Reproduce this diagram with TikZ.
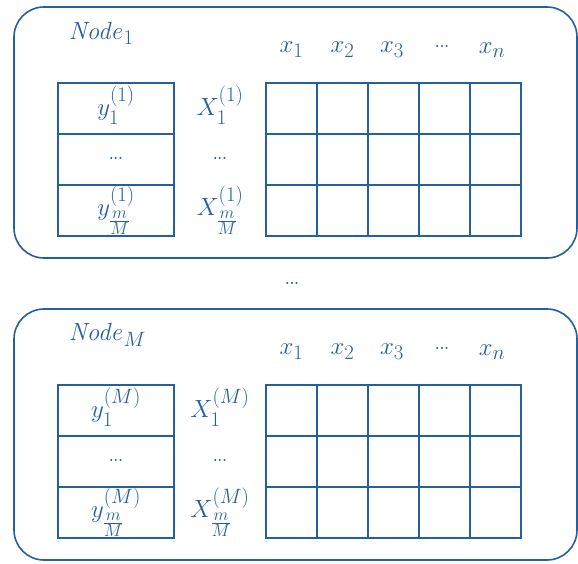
\documentclass[tikz,border=0pt]{standalone}
\usepackage{amsmath}
\definecolor{bl}{RGB}{36,96,160}
\tikzset{
  panel/.style={draw, rounded corners=30pt, minimum width=563pt, minimum height=251pt, inner sep=0pt},
  cell/.style={draw, inner sep=0pt, minimum width=51pt, minimum height=51pt},
  ycell/.style={draw, inner sep=0pt, minimum width=116pt, minimum height=51pt},
  lbl/.style={inner sep=0pt, font=\Huge},
  dots/.style={inner sep=0pt, font=\Large\bfseries}
}
\newcommand\mypanel[4]{%
\begin{scope}[shift={(0,#2)}]
  \node[panel] (#1-box) at (295.5,132.5) {};
  \node[lbl, anchor=west] (#1-name) at (68,33) {$\mathit{Node}_{#4}$};
  \node[ycell] (#1-y1) at (116,108.5) {};
  \node[ycell] (#1-y2) at (116,159.5) {};
  \node[ycell] (#1-y3) at (116,210.5) {};
  \node[lbl] (#1-ty1) at (116,105) {$y_1^{(#3)}$};
  \node[dots] (#1-ty2) at (116,158) {...};
  \node[lbl] (#1-ty3) at (116,210) {$y_{\frac{m}{M}}^{(#3)}$};
  \node[lbl] (#1-X1) at (220,105) {$X_1^{(#3)}$};
  \node[dots] (#1-X2) at (220,158) {...};
  \node[lbl] (#1-X3) at (220,210) {$X_{\frac{m}{M}}^{(#3)}$};
  \foreach \i in {0,...,4}{
    \foreach \j in {0,1,2}{
      \node[cell] (#1-c\i\j) at ({291.5+51*\i},{108.5+51*\j}) {};
    }
  }
  \node[lbl] (#1-h1) at (291.5,50) {$x_1$};
  \node[lbl] (#1-h2) at (342.5,50) {$x_2$};
  \node[lbl] (#1-h3) at (392,50) {$x_3$};
  \node[dots] (#1-h4) at (442,46) {...};
  \node[lbl] (#1-h5) at (492,50) {$x_n$};
\end{scope}}
\begin{document}
\begin{tikzpicture}[x=1pt, y=-1pt, line width=1.6pt, color=bl]
  \useasboundingbox (0,0) rectangle (578,563);
  \mypanel{p1}{0}{1}{1}
  \node[dots] (mid) at (292,283) {...};
  \mypanel{pM}{302}{M}{M}
\end{tikzpicture}
\end{document}
